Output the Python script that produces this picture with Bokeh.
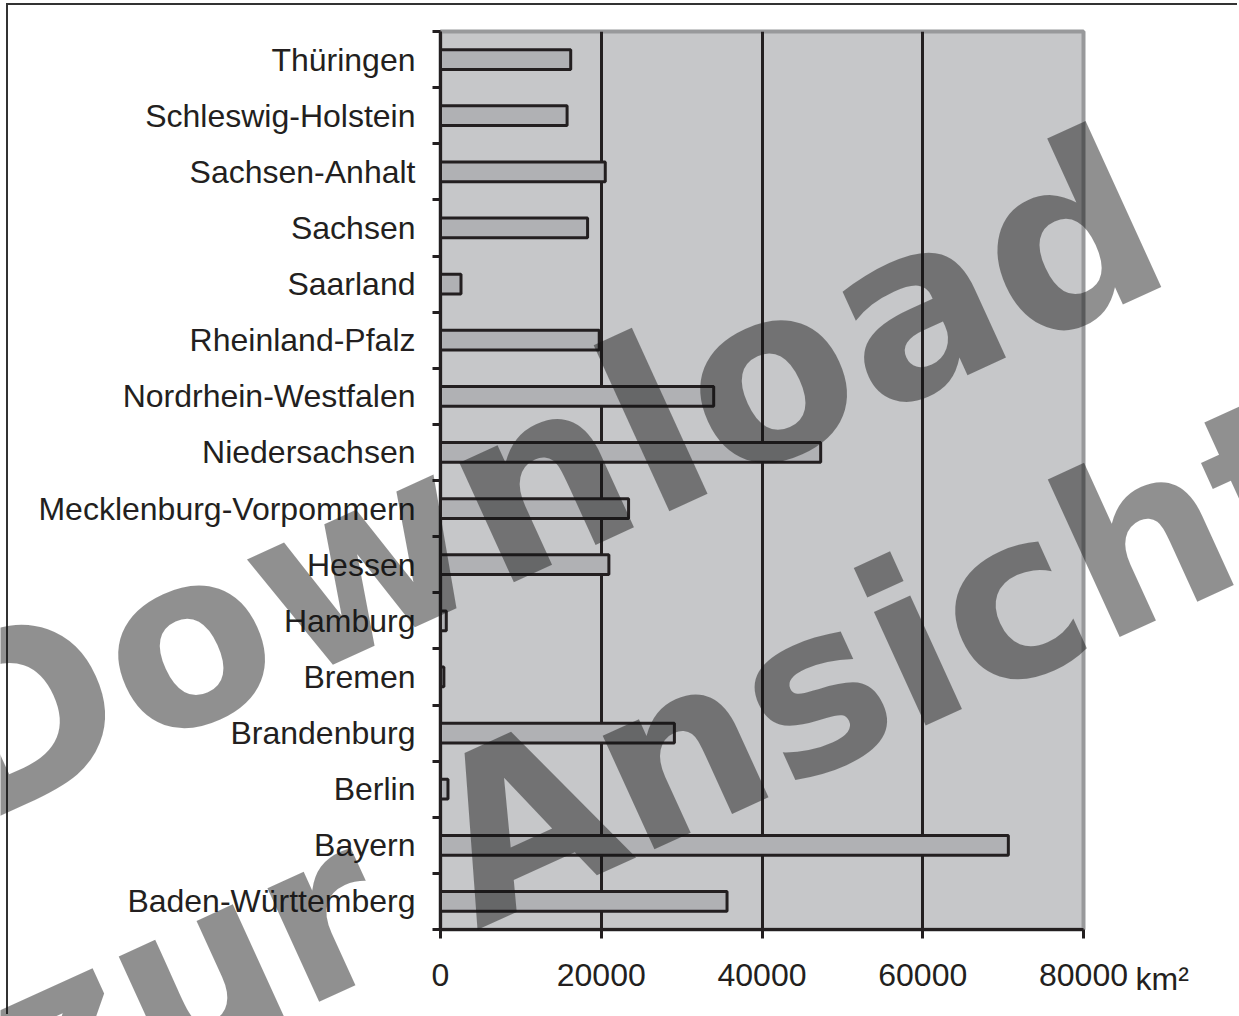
from bokeh.plotting import figure
from bokeh.models import Range1d, FixedTicker, ColumnDataSource
from bokeh.core.properties import value
from bokeh.embed import file_html
from bokeh.resources import INLINE

# ---- data (bottom to top) ----
states = ["Baden-Württemberg", "Bayern", "Berlin", "Brandenburg", "Bremen",
          "Hamburg", "Hessen", "Mecklenburg-Vorpommern", "Niedersachsen",
          "Nordrhein-Westfalen", "Rheinland-Pfalz", "Saarland", "Sachsen",
          "Sachsen-Anhalt", "Schleswig-Holstein", "Thüringen"]
area_km2 = [35650, 70650, 930, 29100, 420, 720, 20950, 23400, 47300,
            33990, 19750, 2550, 18300, 20500, 15750, 16200]
x_ticks = [0, 20000, 40000, 60000, 80000]
x_tick_labels = ["0", "20000", "40000", "60000", "80000"]
unit_label = "km²"
watermark_words = ["Download", "zur Ansicht"]

INK = "#231f20"
FONT = "Liberation Sans"
PAGE_W, PAGE_H = 1239, 1016

n = len(states)
ypos = [i + 0.5 for i in range(n)]
src = ColumnDataSource(dict(y=ypos, area=area_km2, state=states))

p = figure(width=1231, height=1011, output_backend="svg", toolbar_location=None,
           x_range=Range1d(0, 80000), y_range=Range1d(0, n),
           min_border_left=432, min_border_right=156, min_border_top=26,
           min_border_bottom=87)
p.background_fill_color = "#c6c7c9"
p.border_fill_color = "white"
p.outline_line_color = "#98999b"
p.outline_line_width = 4

p.hbar(y="y", left=0, right="area", height=0.35, source=src,
       fill_color="#b0b1b4", line_color=INK, line_width=3)

# grid
p.ygrid.visible = False
p.xgrid.ticker = FixedTicker(ticks=x_ticks[1:-1])
p.xgrid.grid_line_color = INK
p.xgrid.grid_line_width = 3

# x axis
xa = p.xaxis[0]
xa.ticker = FixedTicker(ticks=x_ticks, minor_ticks=[])
xa.major_label_overrides = {t: l for t, l in zip(x_ticks, x_tick_labels)}
xa.axis_line_color = INK
xa.axis_line_width = 3
xa.major_tick_line_color = INK
xa.major_tick_line_width = 3
xa.major_tick_in = 0
xa.major_tick_out = 9
xa.minor_tick_line_color = None
xa.major_label_standoff = 25
xa.major_label_text_font = FONT
xa.major_label_text_font_size = "32px"
xa.major_label_text_color = INK

# y axis: labels at row centres, ticks at row boundaries
ya = p.yaxis[0]
ya.ticker = FixedTicker(ticks=ypos, minor_ticks=list(range(n + 1)))
ya.major_label_overrides = {y: s for y, s in zip(ypos, states)}
ya.axis_line_color = INK
ya.axis_line_width = 3
ya.major_tick_line_color = None
ya.major_tick_in = 0
ya.major_tick_out = 0
ya.minor_tick_line_color = INK
ya.minor_tick_line_width = 3
ya.minor_tick_in = 0
ya.minor_tick_out = 8
ya.major_label_standoff = 17
ya.major_label_text_font = FONT
ya.major_label_text_font_size = "32px"
ya.major_label_text_color = INK

p.styles = {"margin-left": "6px", "margin-top": "3px",
            "border-left": "2px solid #333333", "border-top": "2px solid #333333"}

# ---- overlay in page pixels (unit label + watermark, not clipped to the frame) ----
wm = figure(width=PAGE_W, height=PAGE_H, output_backend="svg", toolbar_location=None,
            x_range=Range1d(0, PAGE_W), y_range=Range1d(0, PAGE_H), min_border=0)
wm.axis.visible = False
wm.grid.visible = False
wm.outline_line_color = None
wm.background_fill_color = None
wm.border_fill_color = None

wm.text(x=[1135], y=[PAGE_H - 978], text=[unit_label], text_font=value(FONT),
        text_font_size="32px", text_color=INK, text_align="left",
        text_baseline="alphabetic")

wm.text(x=[536], y=[PAGE_H - 480], text=[watermark_words[0]],
        angle=24.5, angle_units="deg", text_font=value("DejaVu Sans"),
        text_font_style="bold", text_font_size="240px", text_color="#131313",
        text_alpha=0.47, text_align="center", text_baseline="alphabetic")
wm.text(x=[658], y=[PAGE_H - 760], text=[watermark_words[1]],
        angle=24.5, angle_units="deg", text_font=value("DejaVu Sans"),
        text_font_style="bold", text_font_size="228px", text_color="#131313",
        text_alpha=0.47, text_align="center", text_baseline="alphabetic")

wm.styles = {"position": "absolute", "left": "0px", "top": "0px"}

open("out.html", "w").write(file_html([p, wm], INLINE))
